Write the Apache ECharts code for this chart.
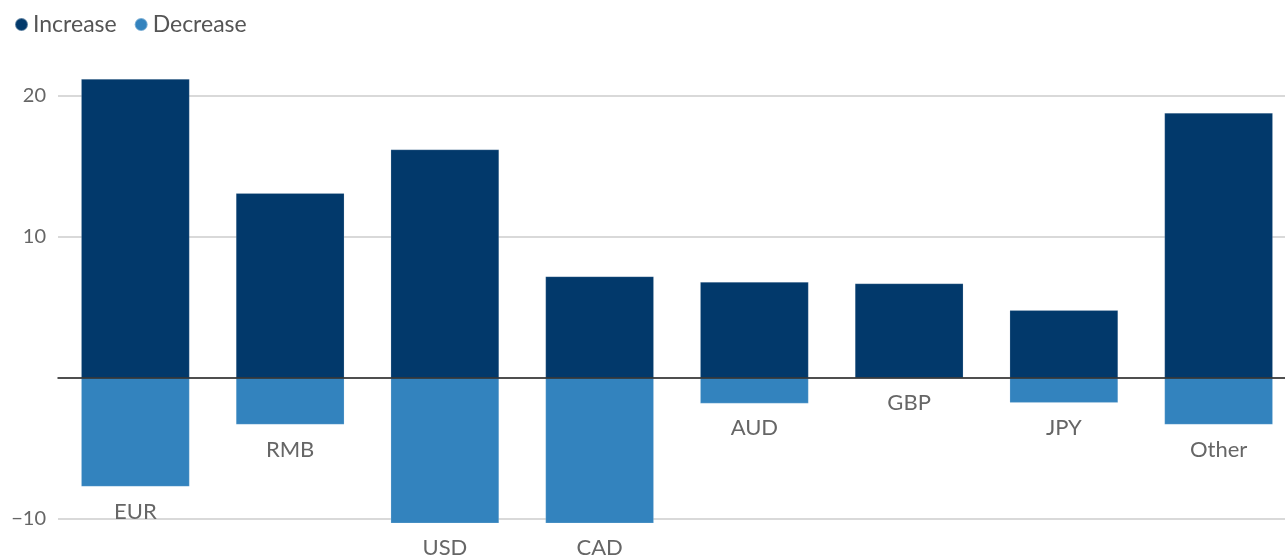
<!DOCTYPE html>
<html>
<head>
<meta charset="utf-8">
<script src="https://cdn.jsdelivr.net/npm/echarts@6/dist/echarts.min.js"></script>
<style>
html,body{margin:0;padding:0;background:#fff;overflow:hidden;}
#chart{width:1296px;height:558px;}
</style>
</head>
<body>
<div id="chart"></div>
<script>
const categories = ['EUR', 'RMB', 'USD', 'CAD', 'AUD', 'GBP', 'JPY', 'Other'];
const increase = [21.2, 13.1, 16.2, 7.2, 6.8, 6.7, 4.8, 18.8];
const decrease = [-7.7, -3.3, -10.3, -10.3, -1.8, 0, -1.75, -3.3];
const yTicks = [-10, 0, 10, 20];

const FONT = 'Lato, "Source Sans Pro", "Noto Sans", sans-serif';
const chart = echarts.init(document.getElementById('chart'), null, {renderer: 'canvas'});
chart.setOption({
  animation: false,
  textStyle: {fontFamily: FONT},
  legend: {
    left: 9, top: 8,
    icon: 'circle', itemWidth: 13, itemHeight: 13, itemGap: 17,
    textStyle: {fontSize: 23, color: '#555', fontFamily: FONT},
    data: ['Increase', 'Decrease']
  },
  grid: {left: 58, right: 0, top: 96, bottom: 39},
  xAxis: {
    type: 'category',
    data: categories,
    z: 5,
    axisLine: {show: true, onZero: true, lineStyle: {color: '#222', width: 1.5}},
    axisTick: {show: false},
    axisLabel: {show: false},
    splitLine: {show: false}
  },
  yAxis: {
    type: 'value',
    min: yTicks[0], max: yTicks[yTicks.length - 1], interval: 10,
    axisLine: {show: false},
    axisTick: {show: false},
    axisLabel: {
      fontSize: 20, color: '#666', margin: 12, fontFamily: FONT,
      formatter: v => (v === 0 ? '' : (v < 0 ? '\u2212' + Math.abs(v) : String(v)))
    },
    splitLine: {lineStyle: {color: '#cccccc', width: 1.5}}
  },
  series: [
    {
      name: 'Increase', type: 'bar', barWidth: '70%', barGap: '-100%', clip: false,
      itemStyle: {color: '#02396b', borderColor: 'rgba(255,255,255,0.35)', borderWidth: 0.5},
      data: increase
    },
    {
      name: 'Decrease', type: 'bar', barWidth: '70%', barGap: '-100%', clip: false,
      itemStyle: {color: '#3383be', borderColor: 'rgba(255,255,255,0.35)', borderWidth: 0.5},
      label: {
        show: true, position: 'bottom', distance: 14,
        fontSize: 22, color: '#666', fontFamily: FONT,
        formatter: p => categories[p.dataIndex]
      },
      data: decrease
    }
  ]
});
</script>
</body>
</html>
